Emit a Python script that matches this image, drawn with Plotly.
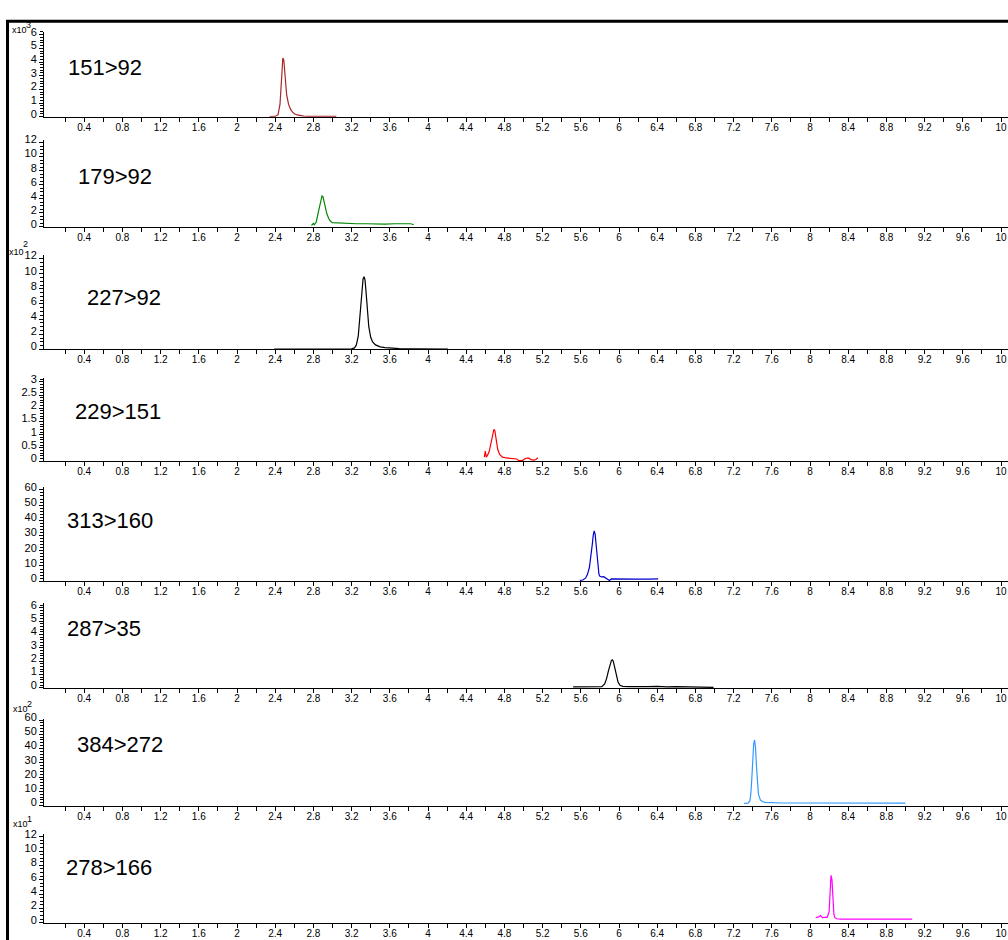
import plotly.graph_objects as go

# ---- MRM chromatogram data: retention time (min) vs. intensity (axis units) ----
# 151>92  (x10^3 counts)
T1_X = [2.34, 2.40, 2.43, 2.45, 2.46, 2.47, 2.48, 2.49, 2.50, 2.51, 2.52, 2.54,
        2.56, 2.58, 2.60, 2.63, 2.66, 2.70, 2.75, 2.80, 2.90, 3.00, 3.04]
T1_Y = [0.0, 0.02, 0.15, 0.9, 2.0, 3.5, 4.3, 4.15, 3.4, 2.4, 1.6, 0.9,
        0.55, 0.35, 0.22, 0.13, 0.08, 0.05, 0.03, 0.02, 0.02, 0.02, 0.02]

# 179>92
T2_X = [2.78, 2.80, 2.81, 2.83, 2.85, 2.87, 2.88, 2.89, 2.90, 2.91, 2.92, 2.94,
        2.96, 2.98, 3.00, 3.05, 3.15, 3.25, 3.35, 3.45, 3.55, 3.65, 3.75, 3.82, 3.85]
T2_Y = [0.2, 0.5, 0.3, 0.7, 2.0, 3.4, 4.1, 4.4, 4.3, 3.7, 3.0, 1.9,
        1.2, 0.8, 0.6, 0.55, 0.5, 0.45, 0.45, 0.4, 0.4, 0.45, 0.4, 0.45, 0.3]

# 227>92  (x10^2 counts)
T3_X = [2.39, 2.80, 3.10, 3.20, 3.23, 3.25, 3.27, 3.29, 3.31, 3.32, 3.33, 3.34,
        3.35, 3.36, 3.38, 3.40, 3.42, 3.45, 3.50, 3.55, 3.62, 3.70, 3.85, 4.00, 4.21]
T3_Y = [0.05, 0.05, 0.05, 0.08, 0.2, 0.6, 1.8, 4.5, 8.0, 9.3, 9.6, 9.2,
        7.8, 5.8, 3.0, 1.6, 1.0, 0.6, 0.35, 0.25, 0.15, 0.1, 0.07, 0.05, 0.05]

# 229>151
T4_X = [4.59, 4.60, 4.61, 4.62, 4.64, 4.66, 4.67, 4.68, 4.69, 4.70, 4.71, 4.72,
        4.73, 4.75, 4.78, 4.82, 4.88, 4.93, 4.95, 4.99, 5.02, 5.05, 5.08, 5.11, 5.13, 5.15]
T4_Y = [0.15, 0.38, 0.15, 0.2, 0.35, 0.7, 0.95, 1.12, 1.2, 1.15, 0.95, 0.7,
        0.45, 0.25, 0.15, 0.12, 0.1, 0.08, 0.02, 0.03, 0.1, 0.12, 0.06, 0.04, 0.06, 0.13]

# 313>160
T5_X = [5.59, 5.62, 5.65, 5.67, 5.69, 5.71, 5.72, 5.73, 5.74, 5.75, 5.76, 5.77,
        5.78, 5.79, 5.80, 5.82, 5.84, 5.86, 5.88, 5.90, 5.92, 6.00, 6.10, 6.16,
        6.20, 6.30, 6.41]
T5_Y = [0.5, 0.8, 2.0, 4.5, 9.0, 17.0, 24.0, 30.0, 33.0, 31.0, 24.0, 15.0,
        8.0, 4.5, 3.2, 2.8, 3.0, 2.2, 1.0, 0.5, 1.5, 1.6, 1.5, 1.8,
        1.4, 1.4, 1.5]

# 287>35
T6_X = [5.52, 5.70, 5.82, 5.85, 5.87, 5.89, 5.91, 5.92, 5.93, 5.94, 5.95, 5.97,
        5.99, 6.01, 6.04, 6.10, 6.20, 6.30, 6.40, 6.50, 6.60, 6.75, 6.90, 6.99]
T6_Y = [0.08, 0.08, 0.1, 0.3, 0.7, 1.3, 1.85, 2.05, 2.1, 2.0, 1.7, 1.0,
        0.45, 0.2, 0.12, 0.1, 0.08, 0.1, 0.12, 0.08, 0.1, 0.08, 0.07, 0.05]

# 384>272  (x10^2 counts)
T7_X = [7.31, 7.35, 7.37, 7.38, 7.39, 7.40, 7.41, 7.42, 7.43, 7.44, 7.45, 7.46,
        7.48, 7.50, 7.53, 7.58, 7.70, 7.90, 8.20, 8.50, 8.80, 9.00]
T7_Y = [1.5, 1.6, 3.0, 8.0, 18.0, 33.0, 43.0, 46.0, 40.0, 27.0, 15.0, 8.0,
        4.0, 2.8, 2.2, 2.0, 1.8, 1.8, 1.7, 1.7, 1.7, 1.7]

# 278>166  (x10^1 counts)
T8_X = [8.06, 8.09, 8.11, 8.13, 8.15, 8.18, 8.20, 8.21, 8.22, 8.23, 8.24, 8.25,
        8.26, 8.28, 8.32, 8.40, 8.60, 8.80, 9.00, 9.07]
T8_Y = [0.7, 0.8, 1.0, 0.7, 0.75, 0.75, 1.5, 4.0, 6.6, 6.0, 3.0, 1.2,
        0.7, 0.55, 0.5, 0.5, 0.5, 0.5, 0.5, 0.5]

TRANSITIONS = ["151>92", "179>92", "227>92", "229>151",
               "313>160", "287>35", "384>272", "278>166"]
SERIES_X = [T1_X, T2_X, T3_X, T4_X, T5_X, T6_X, T7_X, T8_X]
SERIES_Y = [T1_Y, T2_Y, T3_Y, T4_Y, T5_Y, T6_Y, T7_Y, T8_Y]
EXPONENTS = ["3", None, "2", None, None, None, "2", "1"]

# x axis: ticks every 0.2 min, labelled every 0.4 min
XTICK_VALS = [round(0.2 * i, 1) for i in range(1, 51)]
XTICK_TEXT = [f"{v:g}" if i % 2 == 0 else "" for i, v in enumerate(XTICK_VALS, start=1)]

# ---- styling / layout ----
COLORS = ["#a82828", "#008800", "#000000", "#ff0000",
          "#0000cc", "#000000", "#3399ff", "#ff00ff"]
Y_MAX = [6.22, 12.3, 12.45, 3.16, 61.7, 6.37, 61.0, 12.35]
Y_DTICK = [1, 2, 2, 0.5, 10, 1, 10, 2]
Y_MINOR = [0.2, 0.5, 0.5, 0.1, 2, 0.2, 2, 0.5]

W, H = 1008, 940
PANEL_PX = [(24, 110), (134, 221.5), (250, 345.5), (374, 458.5),
            (485, 580), (602, 688), (719, 807), (836, 925.5)]
LABEL_PX = [(66, 60), (76, 170), (85, 293), (73, 408),
            (65, 519), (65, 628), (75, 745), (64, 870)]
# "x10" left edge / centre, then the exponent's offset (right, up)
EXP_PX = [(11, 22), None, (8, 247), None, None, None, (12, 709), (12, 826)]
EXP_SHIFT = [(14, 5), None, (14, 8), None, None, None, (14, 5), (14, 5)]

X0_PX, PX_PER_MIN, AXIS_LEFT_PX = 46.0, 95.5, 44.0
x_range = [(AXIS_LEFT_PX - X0_PX) / PX_PER_MIN, (W - X0_PX) / PX_PER_MIN]

FONT = "Liberation Sans, Arial, sans-serif"


def px_x(px):
    return px / W


def px_y(px):
    return 1 - px / H


fig = go.Figure()
layout = dict(
    width=W, height=H,
    margin=dict(l=0, r=0, t=0, b=0),
    paper_bgcolor="white", plot_bgcolor="white",
    showlegend=False,
    font=dict(family=FONT, size=10, color="black"),
    annotations=[], shapes=[],
)

for i in range(8):
    n = "" if i == 0 else str(i + 1)
    fig.add_trace(go.Scatter(
        x=SERIES_X[i], y=SERIES_Y[i], mode="lines",
        line=dict(color=COLORS[i], width=1.2),
        xaxis="x" + n, yaxis="y" + n, hoverinfo="skip",
    ))
    top, bottom = PANEL_PX[i]
    layout["xaxis" + n] = dict(
        domain=[px_x(AXIS_LEFT_PX), 1], range=x_range, anchor="y" + n,
        showline=True, linecolor="black", linewidth=1,
        showgrid=False, zeroline=False,
        tickmode="array", tickvals=XTICK_VALS, ticktext=XTICK_TEXT,
        ticks="outside", ticklen=4, tickcolor="black", tickwidth=1,
        ticklabelstandoff=-3,
        tickfont=dict(family=FONT, size=10, color="black"),
    )
    layout["yaxis" + n] = dict(
        domain=[px_y(bottom), px_y(top)], range=[0, Y_MAX[i]], anchor="x" + n,
        showline=True, linecolor="black", linewidth=1,
        showgrid=False, zeroline=False,
        tickmode="linear", tick0=0, dtick=Y_DTICK[i],
        ticks="outside", ticklen=4, tickcolor="black", tickwidth=1,
        ticklabelshift=-3,
        tickfont=dict(family=FONT, size=11, color="black"),
        minor=dict(dtick=Y_MINOR[i], tick0=0, ticks="outside", ticklen=3,
                   tickcolor="black", tickwidth=1, showgrid=False),
    )
    lx, ly = LABEL_PX[i]
    layout["annotations"].append(dict(
        text=TRANSITIONS[i], xref="paper", yref="paper",
        x=px_x(lx), y=px_y(ly), xanchor="left", yanchor="middle",
        showarrow=False, font=dict(family=FONT, size=22, color="black"),
    ))
    if EXPONENTS[i]:
        ex, ey = EXP_PX[i]
        dx, dy = EXP_SHIFT[i]
        layout["annotations"].append(dict(
            text="x10", xref="paper", yref="paper",
            x=px_x(ex), y=px_y(ey), xanchor="left", yanchor="middle",
            showarrow=False, borderpad=0,
            font=dict(family=FONT, size=9, color="black"),
        ))
        layout["annotations"].append(dict(
            text=EXPONENTS[i], xref="paper", yref="paper",
            x=px_x(ex + dx), y=px_y(ey - dy), xanchor="left", yanchor="middle",
            showarrow=False, borderpad=0,
            font=dict(family=FONT, size=9, color="black"),
        ))

# heavy frame around the whole chart window
layout["shapes"].append(dict(
    type="rect", xref="paper", yref="paper",
    x0=px_x(7.5), y0=px_y(13.5), x1=px_x(W + 10), y1=px_y(H + 10),
    line=dict(color="black", width=3), fillcolor="rgba(0,0,0,0)", layer="above",
))

fig.update_layout(**layout)
fig.write_html("out.html")
